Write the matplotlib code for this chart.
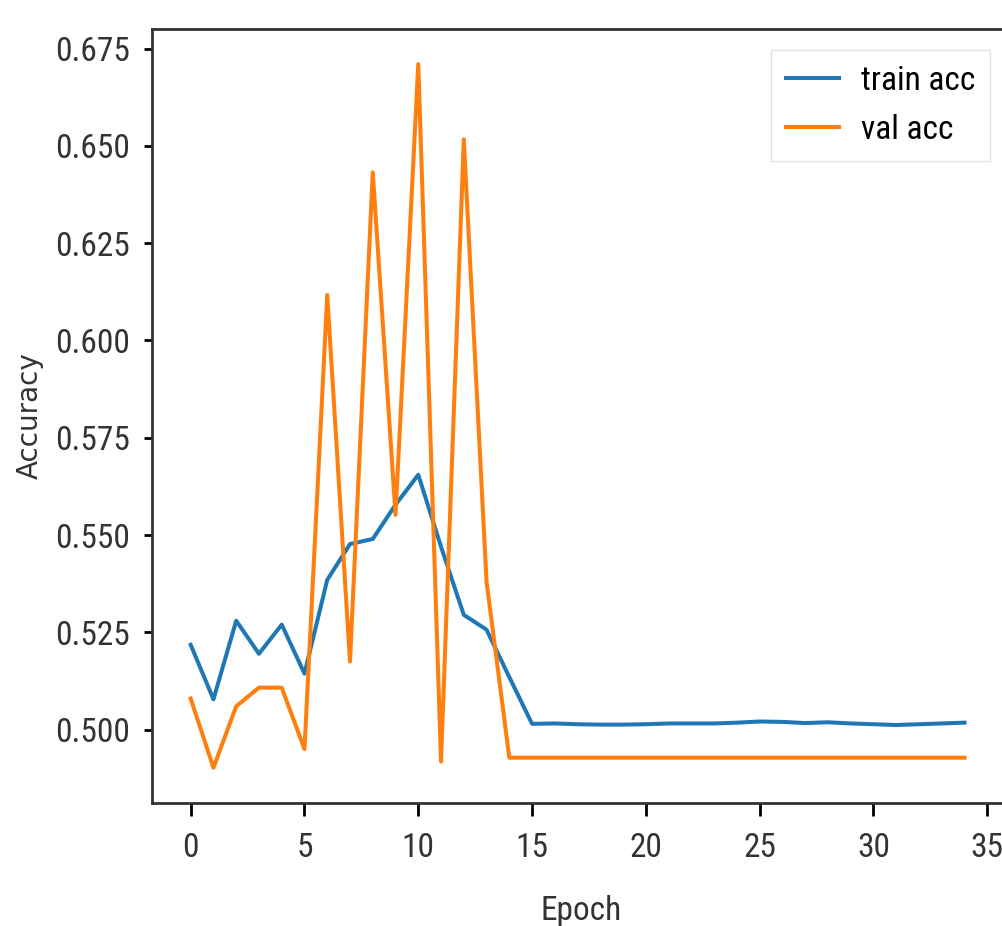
import matplotlib
matplotlib.use("Agg")
import matplotlib.pyplot as plt
from matplotlib import font_manager as fm

# ---- data ----
epochs = list(range(35))
train_acc = [0.5218, 0.5078, 0.5280, 0.5195, 0.5270, 0.5144, 0.5385, 0.5477,
             0.5490, 0.5578, 0.5655, 0.5470, 0.5295, 0.5257, 0.5135, 0.5015,
             0.5016, 0.5014, 0.5013, 0.5013, 0.5014, 0.5016, 0.5016, 0.5016,
             0.5018, 0.5021, 0.5020, 0.5017, 0.5019, 0.5016, 0.5014, 0.5012,
             0.5014, 0.5016, 0.5018]
val_acc = [0.5080, 0.4902, 0.5060, 0.5108, 0.5108, 0.4950, 0.6117, 0.5175,
           0.6432, 0.5552, 0.6710, 0.4918, 0.6517, 0.5380, 0.4928, 0.4928,
           0.4928, 0.4928, 0.4928, 0.4928, 0.4928, 0.4928, 0.4928, 0.4928,
           0.4928, 0.4928, 0.4928, 0.4928, 0.4928, 0.4928, 0.4928, 0.4928,
           0.4928, 0.4928, 0.4928]
xticks = [0, 5, 10, 15, 20, 25, 30, 35]
yticks = [0.500, 0.525, 0.550, 0.575, 0.600, 0.625, 0.650, 0.675]

names = {f.name for f in fm.fontManager.ttflist}
narrow = None
for cand in ["Roboto Condensed", "Liberation Sans Narrow", "DejaVu Sans Condensed", "Open Sans Condensed"]:
    if cand in names:
        narrow = cand
        break
if narrow is None:
    narrow = "DejaVu Sans"

fig = plt.figure(figsize=(10.03, 9.26), dpi=100)
ax = fig.add_axes([152/1003, (926-803)/926, (1010-152)/1003, (803-29)/926])
ax.plot(epochs, train_acc, color="#1f77b4", lw=2.9, label="train acc")
ax.plot(epochs, val_acc, color="#ff7f0e", lw=2.9, label="val acc")
ax.set_xlim(-1.7, 36.0)
ax.set_xticks(xticks)
ax.set_yticks(yticks)
ax.set_xticklabels([str(t) for t in xticks], family=narrow, fontsize=24, color="#333333")
ax.set_yticklabels([f"{t:.3f}" for t in yticks], family=narrow, fontsize=24, color="#333333")
ax.tick_params(axis="x", length=9, width=2, pad=12)
ax.tick_params(axis="y", length=6, width=2, pad=10)
for s in ax.spines.values():
    s.set_linewidth(2)
    s.set_color("#333333")
ax.set_xlabel("Epoch", family=narrow, fontsize=24, color="#333333", labelpad=22)
ax.set_ylabel("Accuracy", family="DejaVu Sans", fontsize=20, color="#333333", labelpad=8)
leg = ax.legend(loc="upper right", prop={"family": narrow, "size": 24},
                handlelength=1.6, borderpad=0.45, labelspacing=0.5, handletextpad=0.65,
                borderaxespad=0, bbox_to_anchor=(990/1003, (926-50)/926),
                bbox_transform=fig.transFigure, fancybox=False)
leg.get_frame().set_linewidth(1.0)
leg.get_frame().set_edgecolor("#dddddd")
fig.savefig("out.png", dpi=100)
